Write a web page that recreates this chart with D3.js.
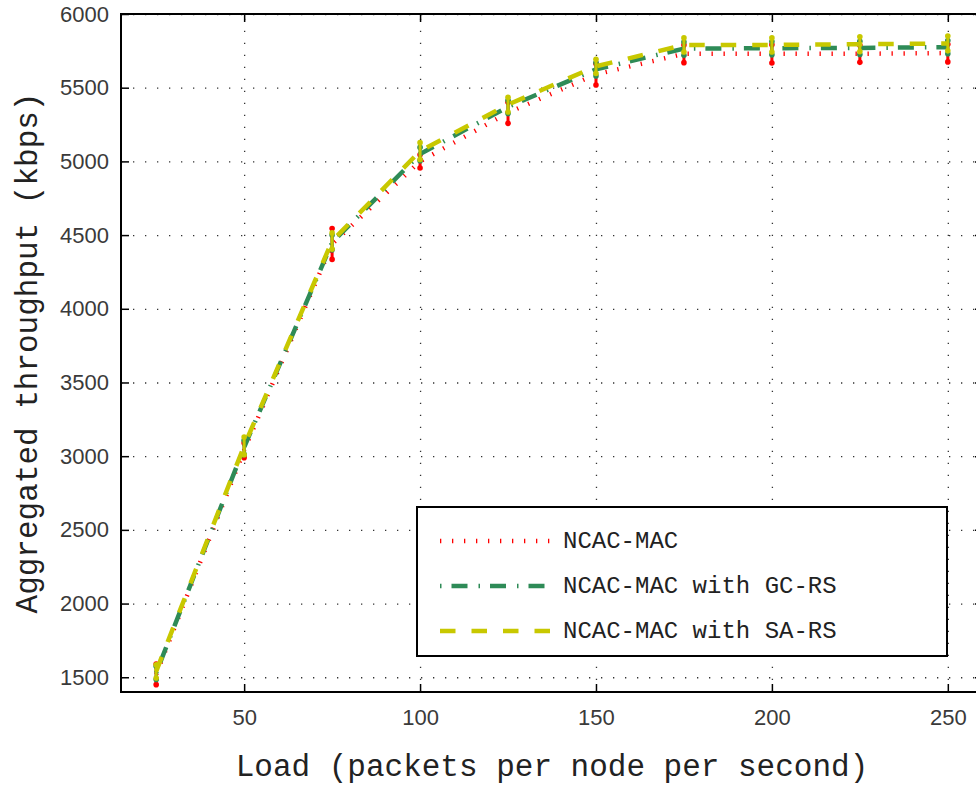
<!DOCTYPE html>
<html>
<head>
<meta charset="utf-8">
<script src="https://cdn.jsdelivr.net/npm/d3@7"></script>
<style>
  html, body { margin: 0; padding: 0; background: #fff; }
  svg { display: block; }
</style>
</head>
<body>
<script>
// Offered load (packets per node per second)
const loads = [25, 50, 75, 100, 125, 150, 175, 200, 225, 250];

// Aggregated throughput (kbps) and error-bar half widths for each scheme
const ncacMac     = [1520, 3040, 4440, 5000, 5330, 5590, 5730, 5730, 5730, 5735];
const ncacMacErr  = [70, 50, 105, 45, 72, 72, 60, 62, 58, 60];
const gcRs        = [1530, 3060, 4450, 5050, 5370, 5625, 5765, 5768, 5770, 5775];
const gcRsErr     = [45, 48, 50, 45, 45, 45, 45, 45, 45, 45];
const saRs        = [1540, 3070, 4460, 5070, 5385, 5645, 5790, 5790, 5795, 5800];
const saRsErr     = [45, 60, 55, 57, 50, 48, 48, 48, 50, 50];

const seriesNames = ["NCAC-MAC", "NCAC-MAC with GC-RS", "NCAC-MAC with SA-RS"];
const xTickValues = [50, 100, 150, 200, 250];
const yTickValues = [1500, 2000, 2500, 3000, 3500, 4000, 4500, 5000, 5500, 6000];

const W = 976, H = 786;
const plot = { left: 121, right: 983, top: 14, bottom: 692 };

const x = d3.scaleLinear().domain([15, 260]).range([plot.left, plot.right]);
const y = d3.scaleLinear().domain([1400, 6000]).range([plot.bottom, plot.top]);

const series = [
  { name: seriesNames[0], values: ncacMac, err: ncacMacErr, color: "#ff0000", width: 4.5, dash: "1.3,10.7" },
  { name: seriesNames[1], values: gcRs,    err: gcRsErr,    color: "#2e8b57", width: 4.5, dash: "1.5,10,16,11" },
  { name: seriesNames[2], values: saRs,    err: saRsErr,    color: "#c8c800", width: 4.5, dash: "15.5,16" }
];

const svg = d3.select("body").append("svg")
  .attr("width", W).attr("height", H)
  .style("font-family", "'Liberation Mono', 'DejaVu Sans Mono', monospace");

svg.append("rect").attr("width", W).attr("height", H).attr("fill", "#fff");

// dotted grid
const gridStyle = g => g.selectAll("line")
  .attr("stroke", "#333").attr("stroke-width", 1.3).attr("stroke-dasharray", "1.3,10.7");

svg.append("g")
  .attr("transform", `translate(0,${plot.bottom})`)
  .call(d3.axisBottom(x).tickValues(xTickValues).tickSize(-(plot.bottom - plot.top)).tickFormat(""))
  .call(g => g.select(".domain").remove())
  .call(gridStyle);

svg.append("g")
  .attr("transform", `translate(${plot.left},0)`)
  .call(d3.axisLeft(y).tickValues(yTickValues).tickSize(-(plot.right - plot.left)).tickFormat(""))
  .call(g => g.select(".domain").remove())
  .call(gridStyle);

// data lines with error bars
const line = d3.line().x(d => x(d[0])).y(d => y(d[1]));

series.forEach(s => {
  const pts = loads.map((l, i) => [l, s.values[i], s.err[i]]);
  const g = svg.append("g");
  g.append("path")
    .attr("d", line(pts))
    .attr("fill", "none")
    .attr("stroke", s.color)
    .attr("stroke-width", s.width)
    .attr("stroke-dasharray", s.dash);

  const bars = g.selectAll(".bar").data(pts).join("g");
  bars.append("line")
    .attr("x1", d => x(d[0])).attr("x2", d => x(d[0]))
    .attr("y1", d => y(d[1] - d[2])).attr("y2", d => y(d[1] + d[2]))
    .attr("stroke", s.color).attr("stroke-width", 3);
  bars.append("circle")
    .attr("cx", d => x(d[0])).attr("cy", d => y(d[1] - d[2])).attr("r", 2.8)
    .attr("fill", s.color);
  bars.append("circle")
    .attr("cx", d => x(d[0])).attr("cy", d => y(d[1] + d[2])).attr("r", 2.8)
    .attr("fill", s.color);
});

// axes with inward ticks
const tickLen = 8;
const axisStyle = g => {
  g.select(".domain").remove();
  g.selectAll(".tick line").attr("stroke", "#000").attr("stroke-width", 1.5);
  g.selectAll(".tick text").attr("fill", "#3a3a3a").style("font-size", "22px");
};

svg.append("g")
  .attr("transform", `translate(0,${plot.bottom})`)
  .call(d3.axisBottom(x).tickValues(xTickValues).tickSize(-tickLen).tickPadding(17).tickFormat(d3.format("d")))
  .call(axisStyle);

svg.append("g")
  .attr("transform", `translate(0,${plot.top})`)
  .call(d3.axisTop(x).tickValues(xTickValues).tickSize(-tickLen).tickFormat(""))
  .call(axisStyle);

svg.append("g")
  .attr("transform", `translate(${plot.left},0)`)
  .call(d3.axisLeft(y).tickValues(yTickValues).tickSize(-tickLen).tickPadding(12).tickFormat(d3.format("d")))
  .call(axisStyle);

svg.append("g")
  .attr("transform", `translate(${plot.right},0)`)
  .call(d3.axisRight(y).tickValues(yTickValues).tickSize(-tickLen).tickFormat(""))
  .call(axisStyle);

// frame
svg.append("rect")
  .attr("x", plot.left).attr("y", plot.top)
  .attr("width", plot.right - plot.left).attr("height", plot.bottom - plot.top)
  .attr("fill", "none").attr("stroke", "#000").attr("stroke-width", 2);

// legend
const legend = { x0: 417, x1: 947, y0: 507, y1: 656 };
svg.append("rect")
  .attr("x", legend.x0).attr("y", legend.y0)
  .attr("width", legend.x1 - legend.x0).attr("height", legend.y1 - legend.y0)
  .attr("fill", "#fff").attr("stroke", "#000").attr("stroke-width", 2);

const rowY = [541, 586, 631];
series.forEach((s, i) => {
  svg.append("line")
    .attr("x1", 440).attr("x2", 550)
    .attr("y1", rowY[i]).attr("y2", rowY[i])
    .attr("stroke", s.color).attr("stroke-width", s.width)
    .attr("stroke-dasharray", s.dash);
  svg.append("text")
    .attr("x", 563).attr("y", rowY[i])
    .attr("dominant-baseline", "central")
    .attr("fill", "#222")
    .style("font-size", "24px")
    .text(s.name);
});

// axis titles
svg.append("text")
  .attr("x", (plot.left + plot.right) / 2).attr("y", 767)
  .attr("text-anchor", "middle").attr("dominant-baseline", "central")
  .attr("fill", "#222").style("font-size", "31px")
  .text("Load (packets per node per second)");

svg.append("text")
  .attr("transform", `translate(28,${(plot.top + plot.bottom) / 2}) rotate(-90)`)
  .attr("text-anchor", "middle").attr("dominant-baseline", "central")
  .attr("fill", "#222").style("font-size", "31px")
  .text("Aggregated throughput (kbps)");
</script>
</body>
</html>
